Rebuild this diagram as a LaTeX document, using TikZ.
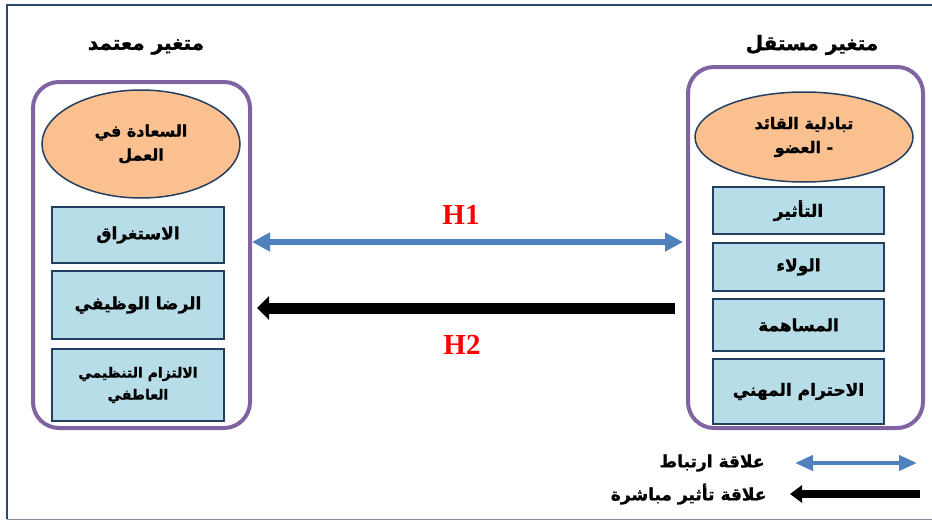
\documentclass[tikz,border=0pt]{standalone}
\usepackage{fontspec}
\setmainfont{Liberation Serif}
\newfontfamily\arabicfont[Script=Arabic, BoldFeatures={FakeBold=1.2}]{DejaVu Sans}
\TeXXeTstate=1
\usetikzlibrary{positioning,arrows.meta,shapes.geometric}
\definecolor{groupline}{HTML}{8064A2}
\definecolor{varfill}{HTML}{FAC090}
\definecolor{dimfill}{HTML}{B7DEE8}
\definecolor{boxline}{HTML}{243F60}
\definecolor{corrblue}{HTML}{4F81BD}
\definecolor{frameline}{HTML}{2C4770}
\definecolor{framegray}{HTML}{7F8C99}

\begin{document}
\begin{tikzpicture}[x=1pt,y=1pt,font=\arabicfont\bfseries\fontsize{17}{21}\selectfont]
    \tikzstyle{groupbox}=[draw=groupline, line width=4pt, rounded corners=26pt]
    \tikzstyle{varellipse}=[ellipse, draw=boxline, line width=1.5pt, fill=varfill, align=center, inner sep=0pt, font=\arabicfont\bfseries\fontsize{16}{24}\selectfont]
    \tikzstyle{dimbox}=[draw=boxline, line width=2pt, fill=dimfill, minimum width=172pt, align=center]
    \tikzstyle{vartitle}=[font=\arabicfont\bfseries\fontsize{20}{24}\selectfont]
    \tikzstyle{hyp}=[text=red, font=\rmfamily\bfseries\fontsize{29}{30}\selectfont]
    \tikzstyle{corr}=[draw=corrblue, line width=6pt, {Triangle[length=18pt,width=18pt]}-{Triangle[length=18pt,width=18pt]}]
    \tikzstyle{effect}=[draw=black, line width=11pt, -{Triangle[length=12pt,width=23pt]}]
    \useasboundingbox (0,0) rectangle (932,-530);
    % page frame
    \draw[frameline, line width=2pt] (7,-519) -- (7,-5) -- (932,-5);
    \draw[framegray, line width=1pt] (7,-519) -- (932,-519);

    % dependent variable
    \node[vartitle] (deptitle) at (146,-47) {\beginR متغير معتمد\endR};
    \node[groupbox, minimum width=217pt, minimum height=346pt] (depbox) at (141.5,-255) {};
    \node[varellipse, minimum width=198pt, minimum height=108pt] (happiness) at (141,-144) {\beginR السعادة في\endR\\\beginR العمل\endR};
    \node[dimbox, minimum height=56pt] (engage) at (138,-235) {\beginR الاستغراق\endR};
    \node[dimbox, minimum height=68pt, below=6pt of engage] (satisf) {\beginR الرضا الوظيفي\endR};
    \node[dimbox, minimum height=72pt, below=8pt of satisf, font=\arabicfont\bfseries\fontsize{14}{22}\selectfont] (commit) {\beginR الالتزام التنظيمي\endR\\\beginR العاطفي\endR};

    % independent variable
    \node[vartitle] (indtitle) at (812,-45) {\beginR متغير مستقل\endR};
    \node[groupbox, minimum width=235pt, minimum height=361pt] (indbox) at (805.5,-247.5) {};
    \node[varellipse, minimum width=218pt, minimum height=90pt] (lmx) at (804,-137) {\beginR تبادلية القائد\endR\\\beginR العضو\endR\ \hbox{-}};
    \node[dimbox, minimum width=171pt, minimum height=47pt] (influence) at (798.5,-210.5) {\beginR التأثير\endR};
    \node[dimbox, minimum width=171pt, minimum height=48pt, below=7pt of influence] (loyalty) {\beginR الولاء\endR};
    \node[dimbox, minimum width=171pt, minimum height=52pt, below=6pt of loyalty] (contrib) {\beginR المساهمة\endR};
    \node[dimbox, minimum width=171pt, minimum height=65pt, below=6pt of contrib] (respect) {\beginR الاحترام المهني\endR};

    % hypotheses
    \node[hyp] (h1) at (461,-215) {H1};
    \node[hyp] (h2) at (462,-345) {H2};
    \draw[corr] (depbox.east |- 0,-242) -- ([xshift=-3pt]indbox.west |- 0,-242);
    \draw[effect] ([xshift=-11pt]indbox.west |- 0,-308) -- ([xshift=5pt]depbox.east |- 0,-308);

    % legend
    \node[anchor=east] (lgcorr) at (768,-463) {\beginR علاقة ارتباط\endR};
    \node[anchor=east] (lgeffect) at (770,-494) {\beginR علاقة تأثير مباشرة\endR};
    \draw[corr, line width=4pt, {Triangle[length=18pt,width=15pt]}-{Triangle[length=18pt,width=15pt]}] ([xshift=27pt]lgcorr.east) -- ++(122,0);
    \draw[effect, line width=8pt, -{Triangle[length=12pt,width=17pt]}] ([xshift=150pt]lgeffect.east) -- ([xshift=20pt]lgeffect.east);
\end{tikzpicture}
\end{document}
